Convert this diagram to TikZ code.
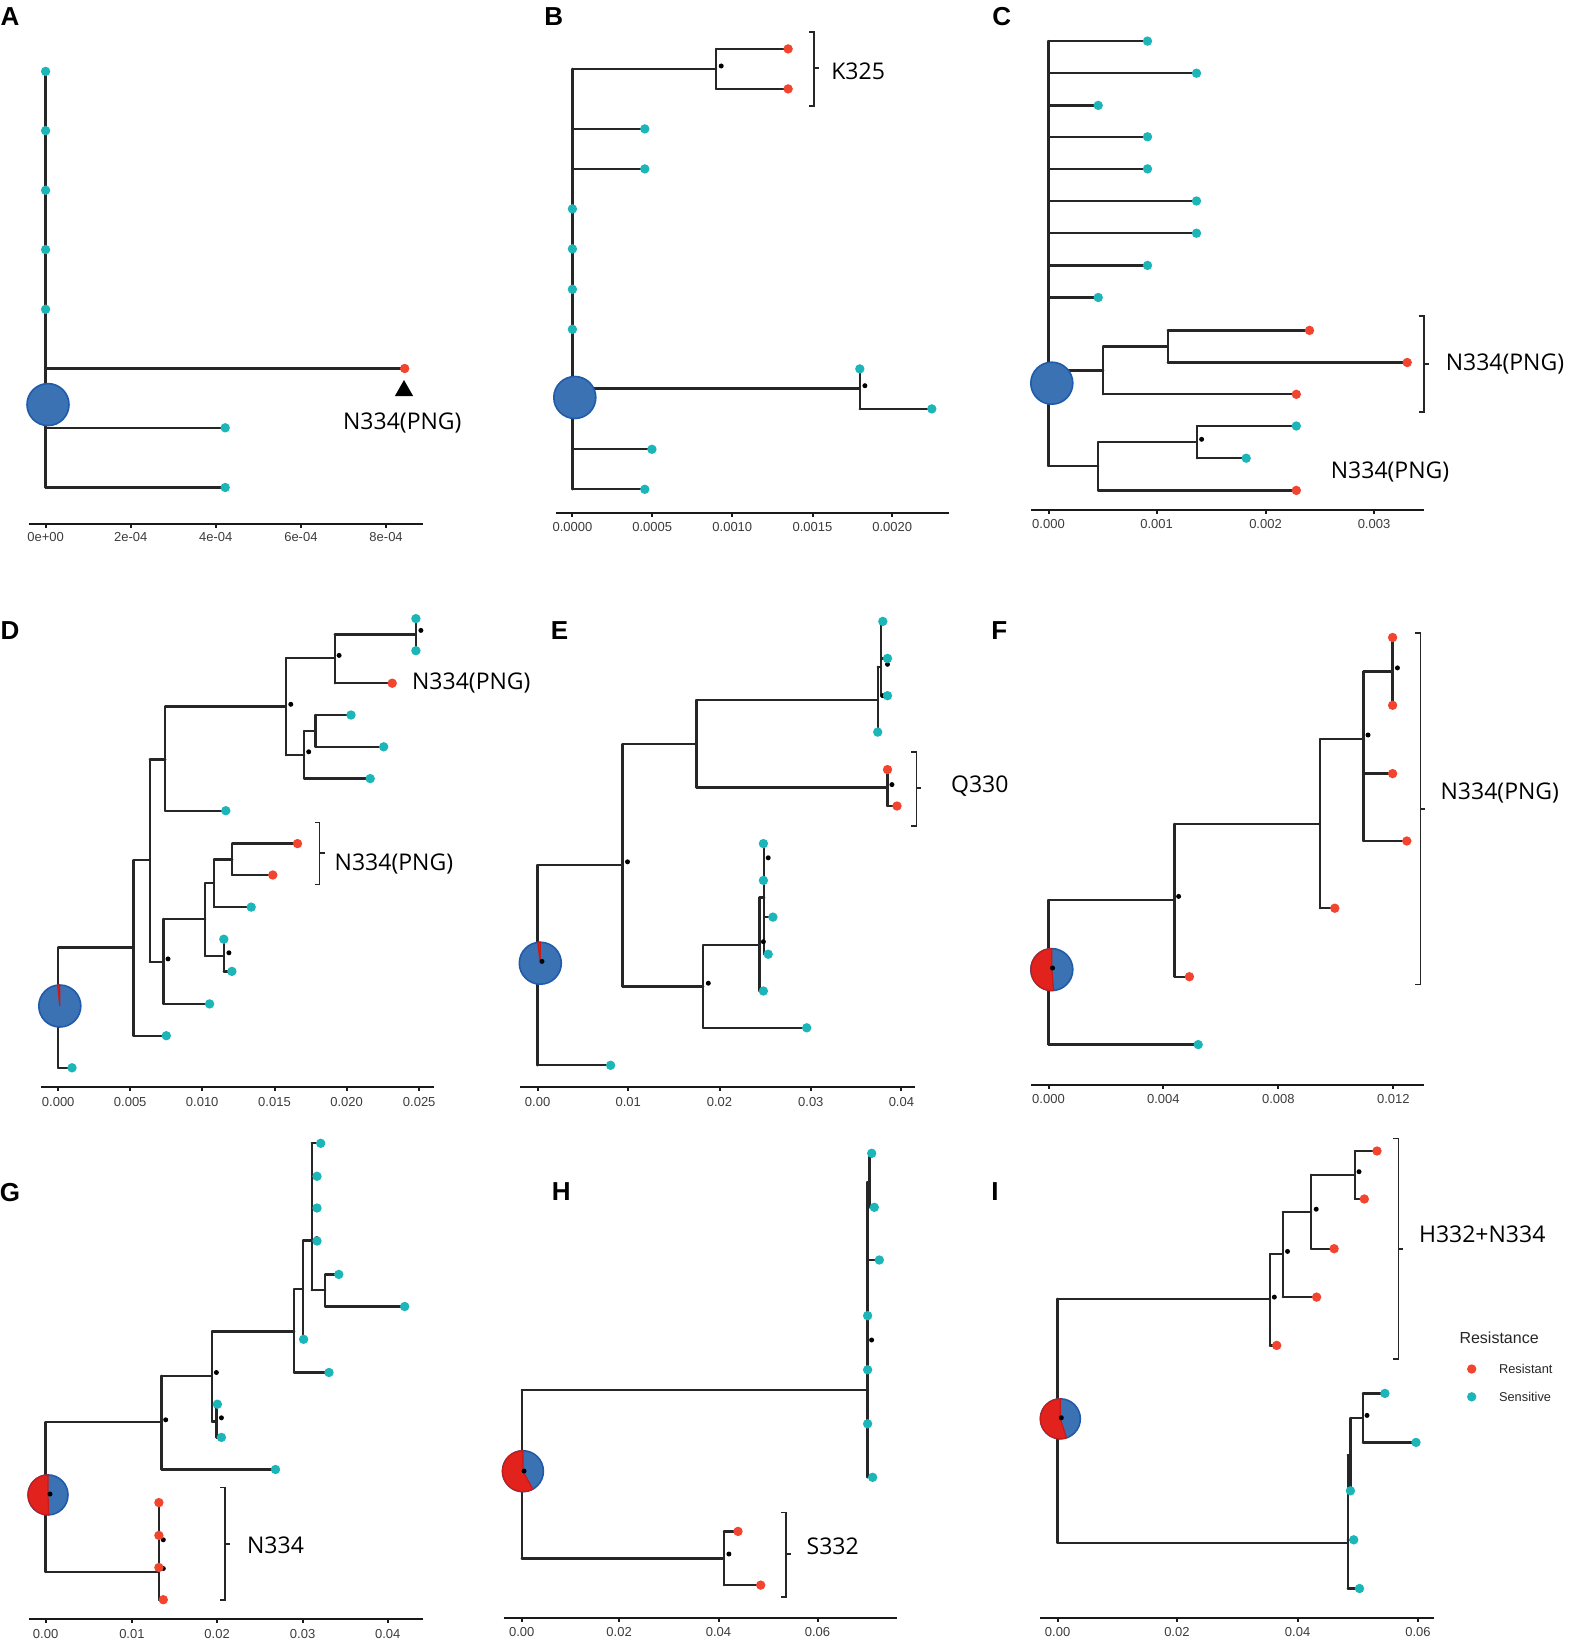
\documentclass[tikz,border=0pt]{standalone}
\usepackage{fontspec}
\setmainfont{Liberation Sans}
\newfontfamily\labfont{Open Sans}
\usetikzlibrary{positioning}
\definecolor{sens}{HTML}{1CB5B8}
\definecolor{resi}{HTML}{F2442E}
\definecolor{rootblue}{HTML}{3A72B4}
\definecolor{rootedge}{HTML}{1F5BAA}
\definecolor{piered}{HTML}{E2231D}
\definecolor{pieedge}{HTML}{C81A16}
\definecolor{tickgray}{HTML}{3C3C3C}
\tikzset{
  br/.style={line width=1.15pt, draw=black!85, line cap=round},
  brk/.style={line width=0.8pt, draw=black!85},
  axisline/.style={line width=1pt, draw=black!90},
  rootc/.style={fill=rootblue, draw=rootedge, line width=0.8pt},
  lab/.style={font=\labfont\fontsize{11.5}{13}\selectfont},
  ticklab/.style={font=\fontsize{6.5}{8}\selectfont, text=tickgray},
  panel/.style={font=\fontsize{13}{15}\selectfont\bfseries},
  leg/.style={font=\fontsize{6.4}{8}\selectfont, text=black!85}
}
\newcommand{\stips}[1]{\foreach \x/\y in {#1} \fill[sens] (\x,\y) circle[radius=4.7];}
\newcommand{\rtips}[1]{\foreach \x/\y in {#1} \fill[resi] (\x,\y) circle[radius=4.7];}
\newcommand{\bdots}[1]{\foreach \x/\y in {#1} \fill[black] (\x,\y) circle[radius=2.5];}
\newcommand{\segs}[1]{\foreach \a/\b/\c/\d in {#1} \draw[br] (\a,\b) -- (\c,\d);}
% bracket: x, top, bottom, middle
\newcommand{\bracket}[4]{\draw[brk] (#1-5,#2) -- (#1,#2) -- (#1,#3) -- (#1-5,#3); \draw[brk] (#1,#4) -- (#1+5,#4);}
% pie: x, y, radius, end angle of the red part
\newcommand{\pie}[4]{\fill[rootblue, draw=rootedge, line width=0.8pt] (#1,#2) circle[radius=#3];
  \fill[piered, draw=pieedge, line width=0.6pt] (#1,#2) -- ++(-90:#3) arc[start angle=-90, end angle=-#4, radius=#3] -- cycle;}
% axis: y, x from, x to, label y, ticks
\newcommand{\taxis}[5]{\draw[axisline] (#2,#1) -- (#3,#1);
  \foreach \x/\l in {#5} {\draw[axisline] (\x,#1) -- (\x,#1+4); \node[ticklab] at (\x,#4) {\l};}}

\begin{document}
\begin{tikzpicture}[x=0.5pt, y=-0.5pt]
\useasboundingbox (0,0) rectangle (1571,1642);

\node[panel] (pA) at (10.1,16.1) {A};
\segs{45.6/71.4/45.6/487.5, 45.6/368.5/404.7/368.5, 45.6/427.8/225.2/427.8, 45.6/487.5/225.2/487.5}
\draw[rootc] (48,404.6) circle[radius=21];
\stips{45.6/71.4, 45.6/130.7, 45.6/190.3, 45.6/249.6, 45.6/309.3, 225.2/427.8, 225.2/487.5}
\rtips{404.7/368.5}
\fill (404,380) -- (394.9,396) -- (413.1,396) -- cycle;
\node[lab] (mutA) at (402.3,422.5) {N334(PNG)};
\taxis{523.9}{28.7}{422.6}{537.5}{45.6/0e+00, 130.8/2e-04, 215.7/4e-04, 300.9/6e-04, 386.1/8e-04}

\node[panel] (pB) at (553.8,16.1) {B};
\segs{572.4/68.9/572.4/489.3, 572.4/68.9/716.1/68.9, 572.4/128.9/644.8/128.9, 572.4/168.9/644.8/168.9,
  572.4/388.6/859.8/388.6, 572.4/449.3/651.9/449.3, 572.4/489.3/644.8/489.3,
  716.1/48.9/716.1/88.9, 716.1/48.9/788.1/48.9, 716.1/88.9/788.1/88.9,
  859.8/368.9/859.8/408.9, 859.8/408.9/931.8/408.9}
\bdots{721.2/66, 864.9/385.7}
\draw[rootc] (574.8,397.5) circle[radius=21];
\stips{572.4/208.9, 572.4/248.9, 572.4/289.3, 572.4/329.3, 644.8/128.9, 644.8/168.9, 859.8/368.9, 931.8/408.9, 651.9/449.3, 644.8/489.3}
\rtips{788.1/48.9, 788.1/88.9}
\bracket{814.1}{32.1}{106}{67.9}
\node[lab] (mutB) at (858.1,71.4) {K325};
\taxis{513.2}{555.5}{949.4}{527.5}{572.4/0.0000, 652.2/0.0005, 732.3/0.0010, 812.5/0.0015, 892.2/0.0020}

\node[panel] (pC) at (1001.8,16.1) {C};
\segs{1048.5/41/1048.5/466, 1048.5/41.1/1147.5/41.1, 1048.5/73.2/1196.5/73.2, 1048.5/105.4/1098.2/105.4,
  1048.5/136.8/1147.5/136.8, 1048.5/168.9/1147.5/168.9, 1048.5/201/1196.5/201, 1048.5/233.2/1196.5/233.2,
  1048.5/265.4/1147.5/265.4, 1048.5/297.5/1098.2/297.5, 1048.5/370.4/1103.2/370.4, 1048.5/466/1098.2/466,
  1103.2/346.4/1103.2/394.3, 1103.2/346.4/1167.8/346.4, 1103.2/394.3/1296.3/394.3,
  1167.8/330.4/1167.8/362.5, 1167.8/330.4/1309.5/330.4, 1167.8/362.5/1407.2/362.5,
  1098.2/442.1/1098.2/490.4, 1098.2/442.1/1196.9/442.1, 1098.2/490.4/1296.3/490.4,
  1196.9/426/1196.9/458.2, 1196.9/426/1296.3/426, 1196.9/458.2/1246.2/458.2}
\bdots{1201.6/439.3}
\draw[rootc] (1051.8,383.2) circle[radius=21];
\stips{1147.5/41.1, 1196.5/73.2, 1098.2/105.4, 1147.5/136.8, 1147.5/168.9, 1196.5/201, 1196.5/233.2, 1147.5/265.4, 1098.2/297.5, 1296.3/426, 1246.2/458.2}
\rtips{1309.5/330.4, 1407.2/362.5, 1296.3/394.3, 1296.3/490.4}
\bracket{1423.7}{316}{411.8}{364.3}
\node[lab] (mutC1) at (1504.9,364.3) {N334(PNG)};
\node[lab] (mutC2) at (1390,472.4) {N334(PNG)};
\taxis{509.6}{1031.2}{1424.4}{523.9}{1048.5/0.000, 1156.6/0.001, 1265.5/0.002, 1374/0.003}

\node[panel] (pD) at (10.1,630.4) {D};
\segs{58.2/947.5/58.2/1067.8, 58.2/1067.8/72/1067.8, 58.2/947.5/133.5/947.5,
  133.5/860.3/133.5/1035.7, 133.5/1035.7/166.3/1035.7, 133.5/860.3/149.8/860.3,
  149.8/759.6/149.8/961.8, 149.8/759.6/165.3/759.6, 149.8/961.8/163.6/961.8,
  165.3/706.4/165.3/810.7, 165.3/810.7/225.8/810.7, 165.3/706.4/286/706.4,
  286/658.2/286/755.3, 286/658.2/334.7/658.2, 286/755.3/304.3/755.3,
  334.7/634.6/334.7/683.2, 334.7/634.6/415.9/634.6, 334.7/683.2/392.2/683.2, 415.9/618.6/415.9/650.7,
  304.3/731/304.3/778.6, 304.3/731/315.4/731, 304.3/778.6/370.2/778.6,
  315.4/715/315.4/746.8, 315.4/715/351/715, 315.4/746.8/383.7/746.8,
  163.6/918.9/163.6/1003.9, 163.6/1003.9/209.6/1003.9, 163.6/918.9/205.2/918.9,
  205.2/883.2/205.2/956, 205.2/956/223.8/956, 205.2/883.2/214/883.2,
  223.8/939.2/223.8/971.4, 223.8/971.4/231.9/971.4,
  214/859.6/214/907.1, 214/907.1/251.2/907.1, 214/859.6/232.3/859.6,
  232.3/843.6/232.3/875, 232.3/843.6/297.5/843.6, 232.3/875/272.8/875}
\bdots{290.8/704.3, 339.1/655.4, 420.9/630.4, 308.7/751.8, 168/958.9, 228.9/952.8}
\pie{59.8}{1006}{21}{96}
\stips{72/1067.8, 166.3/1035.7, 225.8/810.7, 415.9/618.6, 415.9/650.7, 351/715, 383.7/746.8, 370.2/778.6, 209.6/1003.9, 223.8/939.2, 231.9/971.4, 251.2/907.1}
\rtips{392.2/683.2, 297.5/843.6, 272.8/875}
\node[lab] (mutD1) at (471.3,683.2) {N334(PNG)};
\bracket{319.5}{822.5}{884.6}{852.8}
\node[lab] (mutD2) at (393.9,863.5) {N334(PNG)};
\taxis{1086.7}{40.6}{433.8}{1101.7}{58.2/0.000, 130.2/0.005, 202.2/0.010, 274.5/0.015, 346.6/0.020, 419.2/0.025}

\node[panel] (pE) at (559.6,630.4) {E};
\segs{537.6/865/537.6/1065.3, 537.6/1065.3/610.6/1065.3, 537.6/865/622.4/865,
  622.4/744.3/622.4/986.4, 622.4/744.3/696.5/744.3, 622.4/986.4/703.2/986.4,
  696.5/700/696.5/787.5, 696.5/700/877.7/700, 696.5/787.5/887.5/787.5,
  877.7/666.8/877.7/732.1, 877.7/666.8/881.1/666.8,
  881.1/621.4/881.1/695.7, 881.1/621.4/882.8/621.4, 881.1/658.4/887.5/658.4, 881.1/695.7/887.5/695.7,
  887.5/769.6/887.5/806, 887.5/806/897/806,
  703.2/945.3/703.2/1027.8, 703.2/1027.8/806.7/1027.8, 703.2/945.3/759.4/945.3,
  759.4/897.5/759.4/991, 759.4/991/763.4/991, 759.4/897.5/764.1/897.5,
  764.1/843.6/764.1/954.2, 764.1/917.1/772.9/917.1, 764.1/954.2/768.2/954.2}
\bdots{627.5/861.8, 887.5/664.3, 882.8/695.7, 891.9/784.6, 708.3/983.2, 768.2/857.8, 763.4/941.7}
\pie{540.3}{963.2}{21}{97}
\bdots{542/961.4}
\stips{610.6/1065.3, 877.7/732.1, 882.8/621.4, 887.5/658.4, 887.5/695.7, 806.7/1027.8, 763.4/991, 763.4/843.6, 763.4/880.4, 772.9/917.1, 768.2/954.2}
\rtips{887.5/769.6, 897/806}
\bracket{916.3}{751.8}{825.7}{788.2}
\node[lab] (mutE) at (979.8,786.4) {Q330};
\taxis{1086.7}{520}{914.6}{1101.7}{537.6/0.00, 628.2/0.01, 719.5/0.02, 810.8/0.03, 901.4/0.04}

\node[panel] (pF) at (999.4,630.4) {F};
\segs{1048.5/900/1048.5/1044.6, 1048.5/1044.6/1198.2/1044.6, 1048.5/900/1174.6/900,
  1174.6/823.9/1174.6/976.7, 1174.6/976.7/1189.4/976.7, 1174.6/823.9/1320/823.9,
  1320/739.3/1320/908.2, 1320/908.2/1334.8/908.2, 1320/739.3/1363.6/739.3,
  1363.6/671.4/1363.6/841, 1363.6/671.4/1392.6/671.4, 1363.6/773.6/1392.6/773.6, 1363.6/841/1406.8/841,
  1392.6/637.5/1392.6/705.3}
\bdots{1178.6/896.4, 1368/735, 1397.4/667.9}
\pie{1051.8}{969.6}{21}{275}
\bdots{1052.5/968}
\stips{1198.2/1044.6}
\rtips{1189.4/976.7, 1334.8/908.2, 1392.6/637.5, 1392.6/705.3, 1392.6/773.6, 1406.8/841}
\bracket{1420.4}{632.9}{984.6}{808.9}
\node[lab] (mutF) at (1499.8,792.8) {N334(PNG)};
\taxis{1085}{1031}{1424.4}{1099.2}{1048.5/0.000, 1163.4/0.004, 1278.4/0.008, 1393.3/0.012}

\node[panel] (pG) at (10.1,1192.3) {G};
\segs{45.6/1422.2/45.6/1571.9, 45.6/1571.9/158.9/1571.9, 45.6/1422.2/161.6/1422.2,
  158.9/1502.6/158.9/1599.7, 158.9/1599.7/163.3/1599.7,
  161.6/1375.8/161.6/1469.5, 161.6/1469.5/275.5/1469.5, 161.6/1375.8/212/1375.8,
  212/1331.6/212/1421.5, 212/1421.5/216.4/1421.5, 212/1331.6/294.1/1331.6,
  216.4/1404.2/216.4/1437.4, 216.4/1437.4/221.4/1437.4,
  294.1/1289.3/294.1/1372.5, 294.1/1372.5/329/1372.5, 294.1/1289.3/303/1289.3,
  303/1240.6/303/1339.3, 303/1240.6/311.7/1240.6,
  311.7/1143.3/311.7/1290.3, 311.7/1143.3/320.7/1143.3, 311.7/1290.3/325.2/1290.3,
  325.2/1274.4/325.2/1306.5, 325.2/1274.4/338.8/1274.4, 325.2/1306.5/404.7/1306.5}
\bdots{165.7/1419.8, 216.4/1372.5, 221.4/1417.8, 316.8/1238.6, 163.3/1539.8, 163.3/1568.5}
\pie{48}{1494.9}{20}{272}
\bdots{50/1494}
\stips{275.5/1469.5, 217.4/1404.2, 221.4/1437.4, 329/1372.5, 303.6/1339.3, 320.7/1143.3, 317/1176.3, 317/1208, 317/1241, 338.8/1274.4, 404.7/1306.5}
\rtips{158.9/1502.6, 158.9/1535.4, 158.9/1567.5, 163.3/1599.7}
\bracket{224.8}{1487.4}{1599.7}{1543.9}
\node[lab] (mutG) at (275.5,1544.9) {N334};
\taxis{1619.3}{28.7}{422.6}{1634}{45.6/0.00, 131.9/0.01, 217.1/0.02, 302.6/0.03, 387.8/0.04}

\node[panel] (pH) at (561.2,1191.2) {H};
\segs{521.7/1390/521.7/1558.4, 521.7/1390/867.6/1390, 521.7/1558.4/723.9/1558.4,
  867.6/1182/867.6/1477.3, 867.6/1182/869.5/1182, 869.5/1153.3/869.5/1207.3, 869.5/1153.3/871.7/1153.3,
  869.5/1207.3/874.3/1207.3, 867.6/1260/879.3/1260, 867.6/1477.3/872.6/1477.3,
  723.9/1531.4/723.9/1585.1, 723.9/1531.4/738/1531.4, 723.9/1585.1/760.7/1585.1}
\bdots{871.6/1340, 728.9/1554}
\pie{522.9}{1471.2}{20.5}{299}
\bdots{524/1471}
\stips{871.7/1153.3, 874.3/1207.3, 879.3/1260, 867.6/1315.7, 867.6/1369.8, 867.6/1423.8, 872.6/1477.3}
\rtips{738/1531.4, 760.7/1585.1}
\bracket{786.1}{1512.4}{1597}{1554}
\node[lab] (mutH) at (832.7,1546.2) {S332};
\taxis{1617.6}{503.7}{897}{1631.8}{521.7/0.00, 619.1/0.02, 718.5/0.04, 817.5/0.06}

\node[panel] (pI) at (995,1191.2) {I};
\segs{1057.6/1298.8/1057.6/1542.9, 1057.6/1298.8/1269.9/1298.8, 1057.6/1542.9/1347.7/1542.9,
  1269.9/1254.1/1269.9/1345.4, 1269.9/1345.4/1276.7/1345.4, 1269.9/1254.1/1282.8/1254.1,
  1282.8/1211.9/1282.8/1297.1, 1282.8/1297.1/1316.6/1297.1, 1282.8/1211.9/1311.2/1211.9,
  1311.2/1174.7/1311.2/1248.7, 1311.2/1248.7/1334.1/1248.7, 1311.2/1174.7/1355/1174.7,
  1355/1151/1355/1199, 1355/1151/1377/1151, 1355/1199/1364.3/1199,
  1347.7/1455.3/1347.7/1588.5, 1347.7/1455.3/1350.4/1455.3, 1347.7/1539.8/1353.7/1539.8, 1347.7/1588.5/1359.5/1588.5,
  1350.4/1418.1/1350.4/1490.8, 1350.4/1418.1/1362.9/1418.1,
  1362.9/1393.4/1362.9/1442.4, 1362.9/1393.4/1384.9/1393.4, 1362.9/1442.4/1416/1442.4}
\bdots{1274.3/1297.1, 1287.5/1251.4, 1316.2/1209.2, 1359/1171.7, 1367/1415.4}
\pie{1060.3}{1418.8}{20}{288}
\bdots{1061.3/1417.8}
\rtips{1276.7/1345.4, 1316.6/1297.1, 1334.1/1248.7, 1377/1151, 1364.3/1199}
\stips{1350.4/1490.8, 1353.7/1539.8, 1359.5/1588.5, 1384.9/1393.4, 1416/1442.4}
\bracket{1398.3}{1138.3}{1358.9}{1249}
\node[lab] (mutI) at (1482.2,1234.5) {H332+N334};
\taxis{1617.6}{1040}{1433.9}{1631.8}{1057.6/0.00, 1176.9/0.02, 1297.6/0.04, 1418/0.06}

\node[font=\fontsize{8}{10}\selectfont, text=black!85] (legT) at (1499.1,1337.6) {Resistance};
\fill[resi] (1471.7,1369) circle[radius=4.7];
\node[leg, anchor=west] (legR) at (1492,1369) {Resistant};
\fill[sens] (1471.7,1396.8) circle[radius=4.7];
\node[leg, anchor=west] (legS) at (1492,1396.8) {Sensitive};
\end{tikzpicture}
\end{document}
